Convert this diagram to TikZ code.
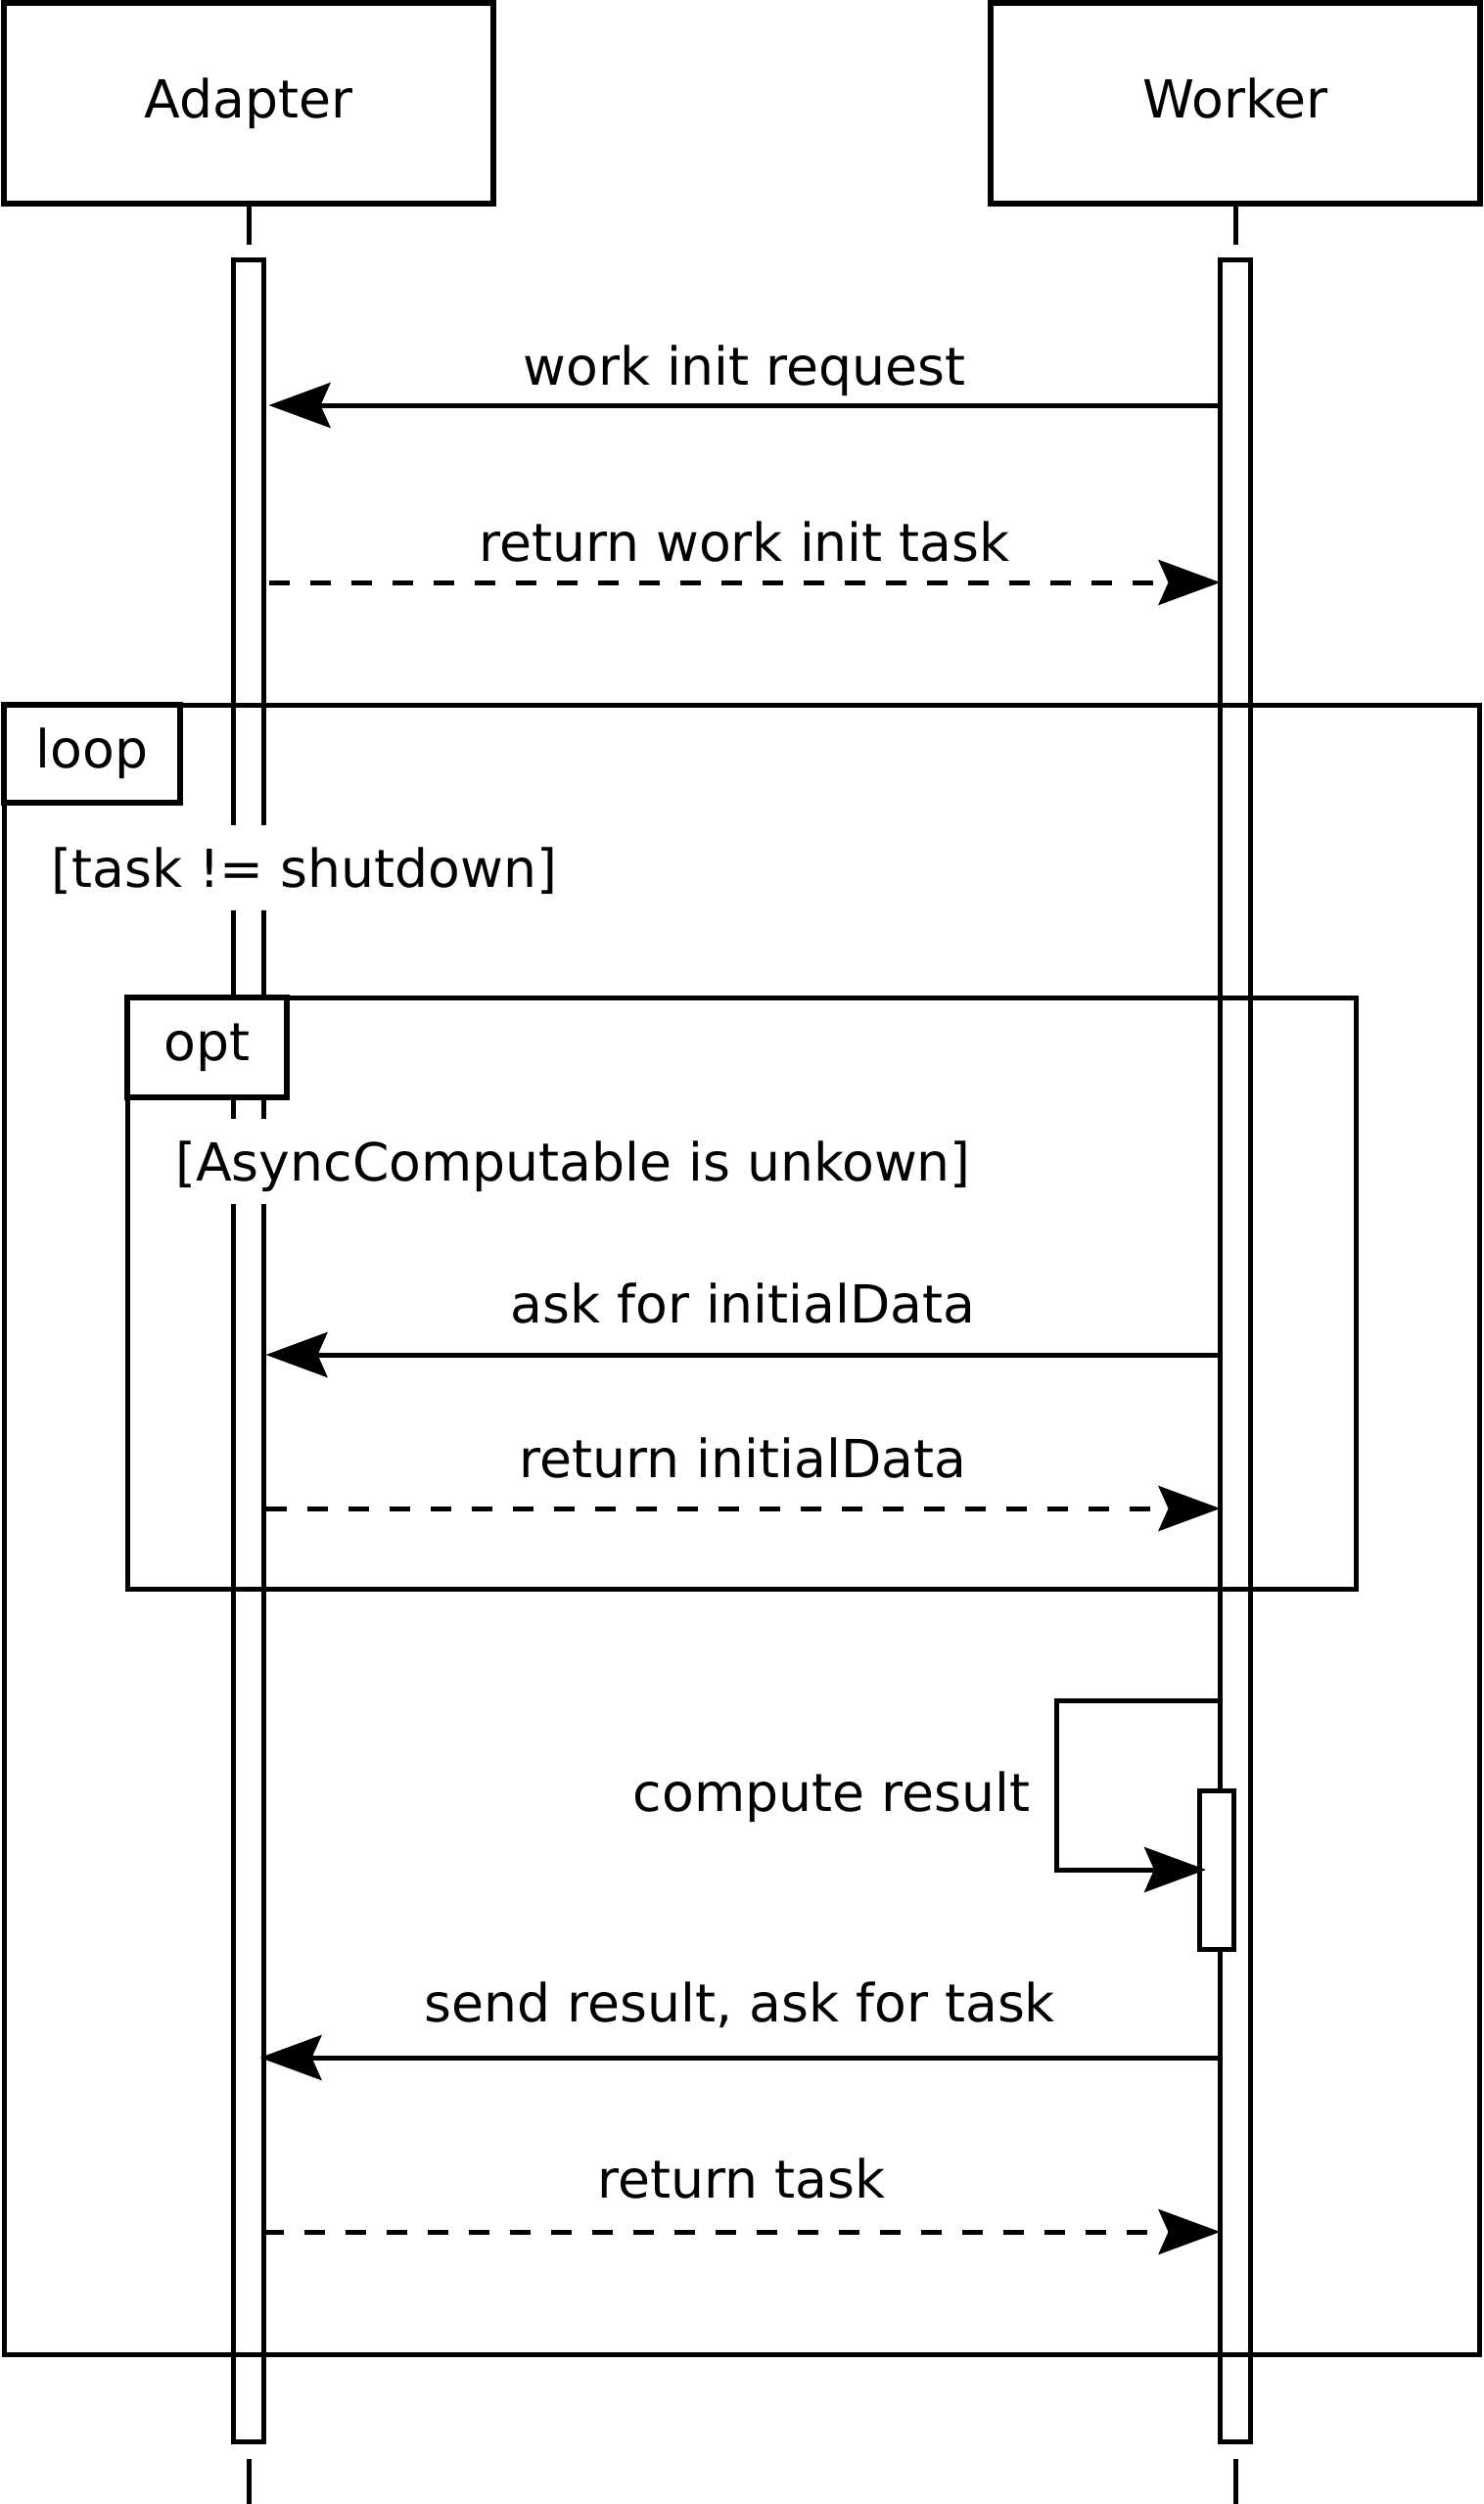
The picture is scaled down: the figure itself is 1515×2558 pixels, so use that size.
\documentclass[tikz,border=0pt]{standalone}
\usepackage{fontspec}
\setmainfont{DejaVu Sans}
\usetikzlibrary{arrows.meta,positioning}

\tikzset{
  participant/.style={draw, line width=3pt, minimum width=250pt, minimum height=102.5pt, inner sep=0pt, outer sep=0pt, text height=20pt, text depth=5.5pt},
  activation/.style={draw, line width=2.5pt, minimum width=15.5pt, minimum height=1114.5pt, inner sep=0pt, outer sep=0pt},
  lifeline/.style={line width=2.5pt},
  msg/.style={line width=2.5pt, ->},
  reply/.style={msg, dash pattern=on 10.5pt off 10.5pt},
  lbl/.style={anchor=base, inner sep=0pt},
  frame/.style={draw, line width=2.5pt},
  tab/.style={draw, fill=white, line width=2.8pt, inner sep=0pt, outer sep=0pt, anchor=north west},
  guard/.style={fill=white, inner sep=0pt, text height=31.5pt, text depth=12pt, anchor=base west},
}

\begin{document}
\begin{tikzpicture}[x=0.5pt, y=-0.5pt, font=\fontsize{26.8pt}{32pt}\selectfont,
    >={Stealth[length=31.5pt, width=23pt, inset=5pt]}]
  \useasboundingbox (0,0) rectangle (1515,2558);

  % participants and their activations
  \node[participant] (adapter) at (254,106) {Adapter};
  \node[participant, right=254pt of adapter] (worker) {Worker};
  \node[activation, below=28.5pt of adapter] (abar) {};
  \node[activation, below=28.5pt of worker] (wbar) {};

  \draw[lifeline] (adapter.south) -- ++(0,42);
  \draw[lifeline] (worker.south) -- ++(0,42);
  \draw[lifeline] ([yshift=-8.5pt]abar.south) -- ++(0,46);
  \draw[lifeline] ([yshift=-8.5pt]wbar.south) -- ++(0,46);

  % message levels
  \coordinate (y1) at (0,414);
  \coordinate (y2) at (0,595);
  \coordinate (y3) at (0,1384);
  \coordinate (y4) at (0,1541);
  \coordinate (ys) at (0,1737);
  \coordinate (y5) at (0,2102);
  \coordinate (y6) at (0,2280);

  % combined fragments
  \draw[frame] (4,720) rectangle (1511,2405);
  \node[tab, minimum width=90pt, minimum height=50pt] (looptab) at (4,720) {loop};
  \node[guard] (loopguard) at (52,906) {[task != shutdown]};

  \draw[frame] (130,1019) rectangle (1385,1623);
  \node[tab, minimum width=81.5pt, minimum height=51pt] (opttab) at (130,1019) {opt};
  \node[guard] (optguard) at (179,1206) {[AsyncComputable is unkown]};

  % messages
  \draw[msg] (wbar.west |- y1) -- node[lbl, yshift=10.5pt] (l1) {work init request} ([xshift=2.5pt]abar.east |- y1);
  \draw[reply] ([xshift=2.5pt]abar.east |- y2) -- node[lbl, yshift=11pt] (l2) {return work init task} (wbar.west |- y2);
  \draw[msg] (wbar.west |- y3) -- node[lbl, yshift=16.5pt] (l3) {ask for initialData} ([xshift=1pt]abar.east |- y3);
  \draw[reply] ([xshift=1pt]abar.east |- y4) -- node[lbl, yshift=16pt] (l4) {return initialData} (wbar.west |- y4);

  \node[activation, fill=white, minimum width=17.5pt, minimum height=81pt] (sbar) at (1242.5,1910) {};
  \draw[msg] (wbar.west |- ys) -- ++(-167,0) |- node[pos=0.25, anchor=base east, inner sep=0pt, xshift=-12.5pt, yshift=-13.5pt] (ls) {compute result} ([xshift=3.5pt]sbar.west);

  \draw[msg] (wbar.west |- y5) -- node[lbl, yshift=18.5pt] (l5) {send result, ask for task} ([xshift=-2pt]abar.east |- y5);
  \draw[reply] ([xshift=-0.5pt]abar.east |- y6) -- node[lbl, yshift=17.5pt] (l6) {return task} (wbar.west |- y6);
\end{tikzpicture}
\end{document}
